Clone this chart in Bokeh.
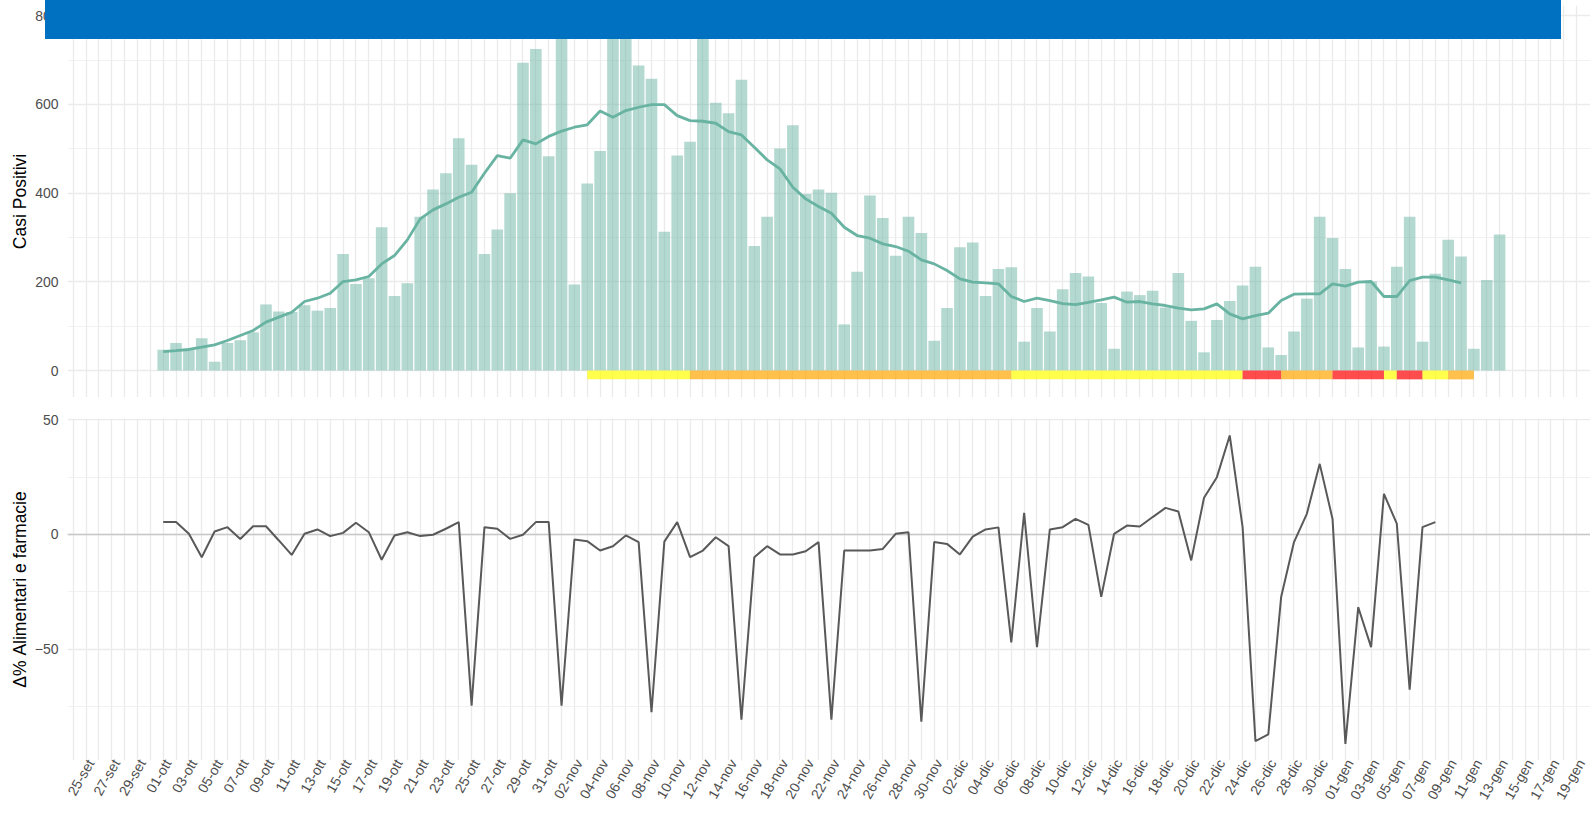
import math
import pandas as pd
from bokeh.plotting import figure
from bokeh.models import Range1d, FixedTicker, ColumnDataSource, Span, Div
from bokeh.layouts import column
from bokeh.embed import file_html
from bokeh.resources import INLINE

# ---------------- data ----------------
data_inizio = "2020-10-01"

casi_positivi = [
    47, 62, 49, 73, 20, 62, 68, 86, 149, 133,
    132, 147, 135, 141, 263, 195, 208, 323, 168, 197,
    347, 408, 445, 524, 464, 263, 318, 400, 694, 725,
    483, 783, 194, 422, 495, 765, 770, 688, 658, 313,
    485, 516, 760, 604, 580, 656, 281, 347, 501, 553,
    398, 408, 401, 104, 223, 395, 344, 259, 347, 310,
    67, 141, 278, 289, 168, 229, 233, 65, 141, 88,
    183, 220, 212, 152, 49, 178, 170, 180, 142, 220,
    112, 41, 114, 157, 192, 234, 52, 35, 88, 162,
    347, 299, 229, 52, 201, 54, 234, 347, 65, 218,
    295, 257, 49, 204, 307,
]

media_mobile = [
    42.8, 45.0, 47.4, 52.6, 57.9, 67.6, 78.9, 90.2, 109.0, 120.3,
    131.5, 155.6, 163.1, 174.4, 200.7, 204.4, 212.0, 240.5, 259.3, 294.6,
    342.0, 362.3, 375.8, 390.8, 402.1, 445.0, 484.8, 478.8, 520.1, 511.1,
    528.0, 540.0, 548.7, 554.3, 585.5, 571.2, 586.2, 593.8, 599.8, 599.8,
    575.0, 563.7, 562.2, 557.7, 538.9, 531.4, 503.6, 475.0, 454.7, 413.4,
    387.1, 369.8, 354.8, 323.2, 304.4, 298.4, 285.6, 279.6, 269.1, 249.5,
    240.5, 225.5, 206.7, 199.2, 197.7, 195.4, 166.9, 155.6, 163.1, 157.8,
    151.0, 148.8, 153.7, 159.3, 165.4, 154.1, 155.6, 150.3, 146.6, 140.5,
    136.8, 139.0, 150.3, 127.8, 116.5, 124.0, 129.3, 157.8, 172.1, 172.9,
    172.9, 195.4, 190.2, 199.2, 200.7, 166.9, 166.9, 202.9, 210.4, 210.4,
    204.4, 197.7,
]

alimentari_farmacie = [
    5.4, 5.4, 0.3, -9.9, 1.3, 3.2, -2.0, 3.6, 3.6, -2.6,
    -8.9, 0.3, 2.2, -0.7, 0.7, 5.1, 1.0, -11.0, -0.4, 1.0,
    -0.7, -0.1, 2.5, 5.4, -74.6, 3.2, 2.5, -1.9, -0.1, 5.4,
    5.4, -74.6, -2.2, -2.9, -7.0, -5.1, -0.4, -3.3, -77.5, -3.1,
    5.4, -9.9, -7.0, -1.2, -5.1, -80.7, -9.9, -5.1, -8.7, -8.7,
    -7.3, -3.3, -80.7, -7.0, -7.0, -7.0, -6.3, 0.3, 1.0, -81.6,
    -3.3, -4.1, -8.7, -0.9, 2.2, 3.1, -47.0, 9.4, -49.1, 2.2,
    3.2, 6.8, 4.2, -27.2, 0.3, 3.9, 3.5, 7.6, 11.6, 10.0,
    -11.3, 16.0, 25.0, 43.2, 3.2, -90.1, -87.2, -27.3, -3.3, 9.0,
    30.8, 6.8, -91.3, -31.7, -49.1, 17.7, 4.7, -67.7, 3.2, 5.4,
]

zone_inizio = ["2020-11-03", "2020-11-11", "2020-12-06", "2020-12-24", "2020-12-27",
               "2020-12-31", "2021-01-04", "2021-01-05", "2021-01-07", "2021-01-09"]
zone_fine = ["2020-11-11", "2020-12-06", "2020-12-24", "2020-12-27", "2020-12-31",
             "2021-01-04", "2021-01-05", "2021-01-07", "2021-01-09", "2021-01-11"]
zone_colore = ["gialla", "arancione", "gialla", "rossa", "arancione",
               "rossa", "gialla", "rossa", "gialla", "arancione"]
colori_zona = {"gialla": "yellow", "arancione": "orange", "rossa": "red"}

etichette_x = [
    "25-set", "27-set", "29-set",
    "01-ott", "03-ott", "05-ott", "07-ott", "09-ott", "11-ott", "13-ott", "15-ott",
    "17-ott", "19-ott", "21-ott", "23-ott", "25-ott", "27-ott", "29-ott", "31-ott",
    "02-nov", "04-nov", "06-nov", "08-nov", "10-nov", "12-nov", "14-nov", "16-nov",
    "18-nov", "20-nov", "22-nov", "24-nov", "26-nov", "28-nov", "30-nov",
    "02-dic", "04-dic", "06-dic", "08-dic", "10-dic", "12-dic", "14-dic", "16-dic",
    "18-dic", "20-dic", "22-dic", "24-dic", "26-dic", "28-dic", "30-dic",
    "01-gen", "03-gen", "05-gen", "07-gen", "09-gen", "11-gen", "13-gen", "15-gen",
    "17-gen", "19-gen",
]
prima_etichetta = "2020-09-25"

tick_casi = [0, 200, 400, 600, 800]
tick_casi_minor = [100, 300, 500, 700]
tick_mob = [-50, 0, 50]
tick_mob_minor = [-75, -25, 25]

# ---------------- derived ----------------
t0 = pd.Timestamp(data_inizio)


def giorno(s):
    return (pd.Timestamp(s) - t0).days


k_casi = list(range(len(casi_positivi)))
k_mm = list(range(len(media_mobile)))
k_mob = list(range(len(alimentari_farmacie)))
off = giorno(prima_etichetta)
tick_giorni = [off + 2 * i for i in range(len(etichette_x))]
griglia_x = list(range(off - 1, tick_giorni[-1] + 1))

# rotated labels in the original are centred on their date; Bokeh right-aligns
# them, so the label anchors are nudged to land in the same place
SFASAMENTO_ETICHETTE = 0.35
tick_x = [t + SFASAMENTO_ETICHETTE for t in tick_giorni]

FONT = "Liberation Sans"
GRID = "#EBEBEB"
TXT = "#4D4D4D"
W = 1590
LEFT = 67
PX_DAY = 12.85
x_start = -7.447
x_end = x_start + (W - LEFT) / PX_DAY
xr = Range1d(x_start, x_end)


def style(p):
    p.outline_line_color = None
    p.background_fill_color = "white"
    p.border_fill_color = "white"
    for ax in p.yaxis:
        ax.axis_line_color = None
        ax.major_tick_line_color = None
        ax.minor_tick_line_color = None
        ax.major_tick_out = 0
        ax.major_tick_in = 0
        ax.minor_tick_out = 0
        ax.minor_tick_in = 0
        ax.major_label_text_font = FONT
        ax.major_label_text_font_size = "14px"
        ax.major_label_text_color = TXT
        ax.major_label_standoff = 9
        ax.axis_label_text_font = FONT
        ax.axis_label_text_font_size = "17.5px"
        ax.axis_label_text_font_style = "normal"
        ax.axis_label_text_color = "black"
    p.xgrid.ticker = FixedTicker(ticks=griglia_x)
    p.xgrid.grid_line_color = GRID
    p.xgrid.grid_line_width = 1.3
    p.ygrid.grid_line_color = GRID
    p.ygrid.grid_line_width = 1.3
    p.ygrid.minor_grid_line_color = GRID
    p.ygrid.minor_grid_line_width = 0.7


# ---------------- top panel ----------------
p1 = figure(width=W, height=397, x_range=xr, y_range=Range1d(-60.9, 823.3),
            output_backend="svg", toolbar_location=None, title=None,
            min_border_left=LEFT, min_border_right=0, min_border_top=5, min_border_bottom=0)
p1.xaxis.visible = False
p1.yaxis.ticker = FixedTicker(ticks=tick_casi, minor_ticks=tick_casi_minor)
p1.yaxis.axis_label = "Casi Positivi"
style(p1)
p1.yaxis.axis_label_standoff = 2

p1.vbar(x=k_casi, top=casi_positivi, width=0.9, fill_color="#69b3a2", fill_alpha=0.5,
        line_color=None)

src_z = ColumnDataSource(dict(
    left=[giorno(s) for s in zone_inizio],
    right=[giorno(s) for s in zone_fine],
    color=[colori_zona[z] for z in zone_colore],
))
p1.quad(left="left", right="right", bottom=-20, top=0, fill_color="color", fill_alpha=0.7,
        line_color=None, source=src_z)
p1.line(k_mm, media_mobile, line_color="#69b3a2", line_width=2.8)

# solid blue banner lying over the top of the chart
banner = Div(text="", width=1516, height=39, margin=(0, 0, -39, 45),
             styles={"background-color": "#0070C0", "position": "relative", "z-index": "10"})

# ---------------- bottom panel ----------------
p2 = figure(width=W, height=415, x_range=xr, y_range=Range1d(-98.55, 50.58),
            output_backend="svg", toolbar_location=None, title=None,
            min_border_left=LEFT, min_border_right=0, min_border_top=21, min_border_bottom=52)
p2.yaxis.ticker = FixedTicker(ticks=tick_mob, minor_ticks=tick_mob_minor)
p2.yaxis.axis_label = "Δ% Alimentari e farmacie"
style(p2)
p2.yaxis.axis_label_standoff = 2
p2.xaxis.ticker = FixedTicker(ticks=tick_x)
p2.xaxis.major_label_overrides = {t: lab for t, lab in zip(tick_x, etichette_x)}
p2.xaxis.major_label_orientation = math.radians(60)
p2.xaxis.axis_line_color = None
p2.xaxis.major_tick_line_color = None
p2.xaxis.minor_tick_line_color = None
p2.xaxis.major_tick_out = 0
p2.xaxis.major_tick_in = 0
p2.xaxis.minor_tick_out = 0
p2.xaxis.minor_tick_in = 0
p2.xaxis.major_label_text_font = FONT
p2.xaxis.major_label_text_font_size = "14px"
p2.xaxis.major_label_text_color = TXT
p2.xaxis.major_label_standoff = 0

p2.add_layout(Span(location=0, dimension="width", line_color="#C8C8C8", line_width=1.5,
                   level="underlay"))
p2.line(k_mob, alimentari_farmacie, line_color="#595959", line_width=2)

layout = column(banner, p1, p2)
open("out.html", "w").write(file_html(layout, INLINE))
